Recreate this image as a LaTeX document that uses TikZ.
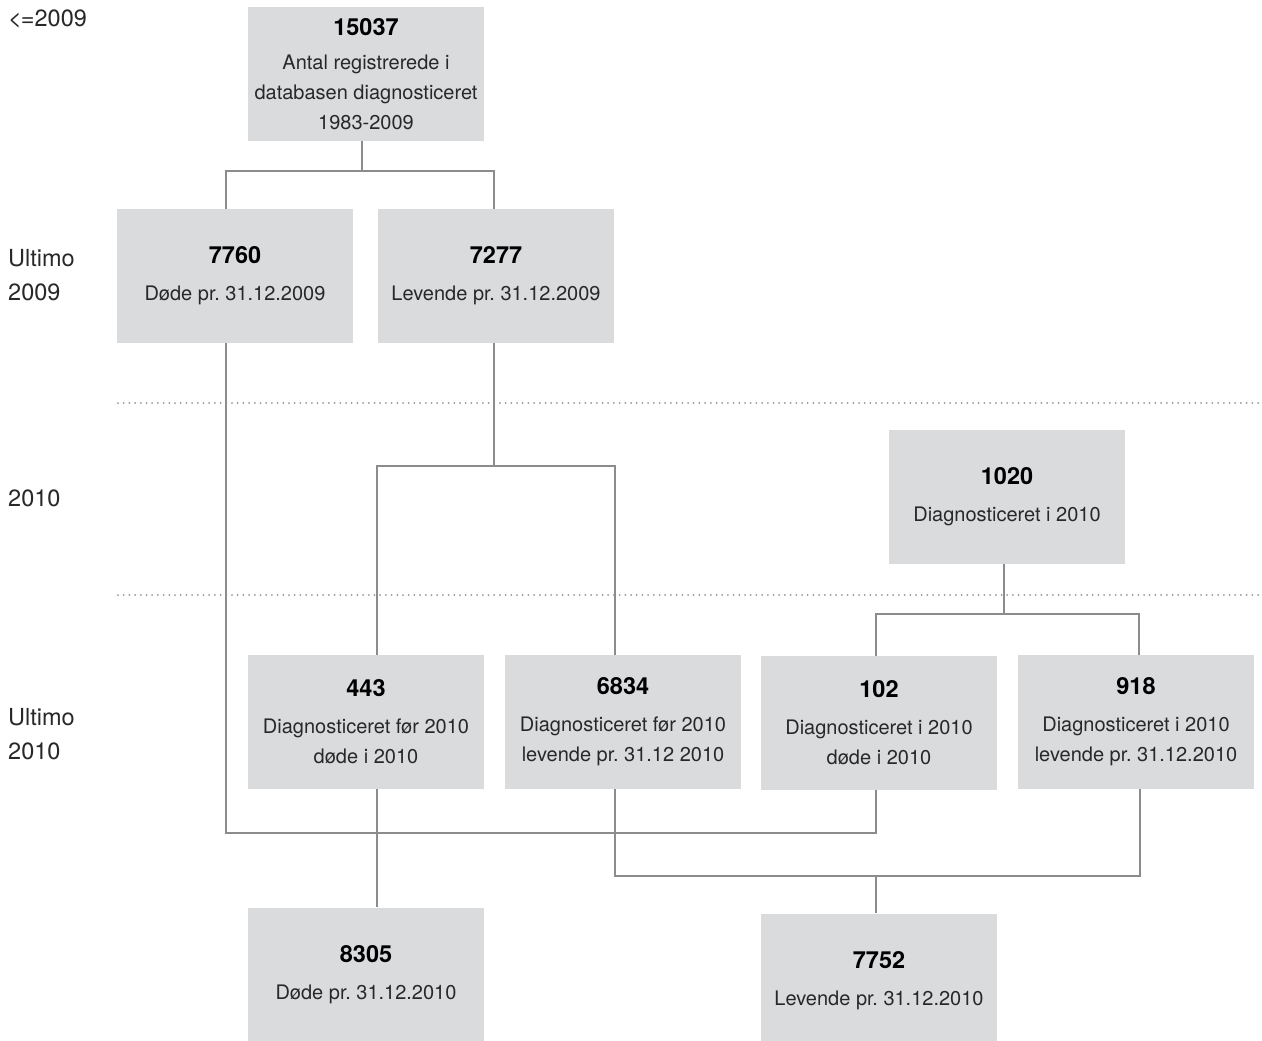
\documentclass[tikz,border=0pt]{standalone}
\usepackage{fontspec}
\setmainfont{TeX Gyre Heros}
\frenchspacing
\definecolor{boxgray}{RGB}{218,219,221}
\definecolor{linegray}{RGB}{140,140,140}
\definecolor{dotgray}{RGB}{150,150,150}
\definecolor{bodytext}{RGB}{40,40,40}
\newcommand\bignum[1]{{\fontsize{23.5}{30}\selectfont\bfseries\color{black}#1}}
\begin{document}
\begin{tikzpicture}[x=1pt,y=-1pt,
  box/.style={fill=boxgray, minimum width=236pt, minimum height=134pt, inner sep=0pt,
    align=center, font=\fontsize{20}{30}\selectfont\frenchspacing, text=bodytext},
  conn/.style={draw=linegray, line width=1.4pt},
  sep/.style={draw=dotgray, line width=2pt, line cap=round, dash pattern=on 0pt off 5.7pt},
  lab/.style={anchor=north west, inner sep=0pt, font=\fontsize{23.5}{34}\selectfont,
    text=bodytext, align=left}]
\clip (0,0) rectangle (1262,1041);
\fill[white] (0,0) rectangle (1262,1041);

% separators
\coordinate (s1a) at (118,403);
\coordinate (s1b) at (1262,403);
\coordinate (s2a) at (118,595);
\coordinate (s2b) at (1262,595);
\draw[sep] (s1a) -- (s1b);
\draw[sep] (s2a) -- (s2b);

% left labels
\node[lab] (l1) at (8,10) {<\kern-1pt=2009};
\node[lab] (l2) at (8,249) {Ultimo\\2009};
\node[lab] (l3) at (8,490) {2010};
\node[lab] (l4) at (8,708) {Ultimo\\2010};

% boxes
\node[box] (A) at (366,74) {\bignum{15037}\\[4pt]Antal registrerede i\\databasen diagnosticeret\\1983-2009};
\node[box] (B) at (235,276) {\bignum{7760}\\[7pt]Døde pr. 31.12.2009};
\node[box] (C) at (496,276) {\bignum{7277}\\[7pt]Levende pr. 31.12.2009};
\node[box] (D) at (1007,497) {\bignum{1020}\\[7pt]Diagnosticeret i 2010};
\node[box] (E) at (366,722) {\bignum{443}\\[7pt]Diagnosticeret før 2010\\døde i 2010};
\node[box] (F) at (623,722) {\bignum{6834}\\[7pt]Diagnosticeret før 2010\\levende pr. 31.12 2010};
\node[box] (G) at (879,723) {\bignum{102}\\[7pt]Diagnosticeret i 2010\\døde i 2010};
\node[box] (H) at (1136,722) {\bignum{918}\\[7pt]Diagnosticeret i 2010\\levende pr. 31.12.2010};
\node[box] (I) at (366,974.5) {\bignum{8305}\\[7pt]Døde pr. 31.12.2010};
\node[box] (J) at (879,980.5) {\bignum{7752}\\[7pt]Levende pr. 31.12.2010};

% junctions
\coordinate (jA) at (362,171);
\coordinate (jC) at (494,466);
\coordinate (jD) at (1004,614);
\coordinate (jB) at (226,833);
\coordinate (jF) at (615,876);
\coordinate (jJ) at (876,876);

% connectors
\draw[conn] ([xshift=-4pt]A.south) -- (jA);
\draw[conn] ([xshift=-9pt]B.north) |- (jA) -| ([xshift=-2pt]C.north);
\draw[conn] ([xshift=-2pt]C.south) -- (jC);
\draw[conn] ([xshift=11pt]E.north) |- (jC) -| ([xshift=-8pt]F.north);
\draw[conn] ([xshift=-3pt]D.south) -- (jD);
\draw[conn] ([xshift=-3pt]G.north) |- (jD) -| ([xshift=3pt]H.north);
\draw[conn] ([xshift=-9pt]B.south) -- (jB) -| ([xshift=-3pt]G.south);
\draw[conn] ([xshift=-8pt]F.south) -- (jF) -| ([xshift=4pt]H.south);
\draw[conn] (jJ) -- ([xshift=-3pt]J.north);
\draw[conn] ([xshift=11pt]E.south) -- ([xshift=11pt]I.north);
\end{tikzpicture}
\end{document}
